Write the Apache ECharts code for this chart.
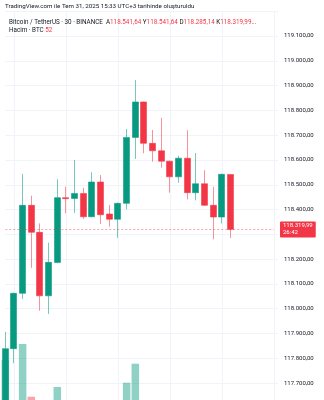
<!DOCTYPE html>
<html>
<head>
<meta charset="utf-8">
<script src="https://cdn.jsdelivr.net/npm/echarts@6/dist/echarts.min.js"></script>
<style>html,body{margin:0;padding:0;background:#fff}#c{width:324px;height:400px}</style>
</head>
<body>
<div id="c"></div>
<script>
const categories = ['02:30','03:00','03:30','04:00','04:30','05:00','05:30','06:00','06:30','07:00','07:30','08:00','08:30','09:00','09:30','10:00','10:30','11:00','11:30','12:00','12:30','13:00','13:30','14:00','14:30','15:00','15:30','16:00','16:30','17:00','17:30','18:00'];
const opens  = [117590, 117839, 118062, 118417, 118308, 118052, 118186, 118448, 118445, 118465, 118371, 118511, 118382, 118361, 118425, 118691, 118834, 118667, 118637, 118595, 118532, 118607, 118468, 118504, 118417, 118370, 118541.64];
const closes = [117839, 118062, 118417, 118308, 118052, 118187, 118448, 118444, 118465, 118371, 118511, 118379, 118361, 118425, 118691, 118834, 118667, 118637, 118595, 118532, 118607, 118468, 118504, 118417, 118370, 118542, 118319.99];
const lows   = [117540, 117780, 118039, 118165, 117992, 117979, 118184, 118385, 118387, 118362, 118369, 118342, 118331, 118286, 118401, 118604, 118627, 118593, 118569, 118468, 118508, 118441, 118437, 118414, 118280, 118344, 118285.14];
const highs  = [117907, 118065, 118543, 118456, 118344, 118266, 118522, 118492, 118600, 118488, 118550, 118539, 118418, 118428, 118725, 118922, 118836, 118721, 118769, 118597, 118617, 118720, 118628, 118559, 118492, 118545, 118541.64];
const volumes = [700, 280, 860, 333, 290, 250, 430, 120, 180, 150, 220, 200, 110, 190, 473, 663, 260, 140, 170, 160, 130, 210, 120, 150, 240, 230, 52];
const lastPrice = 118319.99;
const countdown = '26:42';
const headerLine1 = 'TradingView.com ile Tem 31, 2025 15:33 UTC+3 tarihinde oluşturuldu';
const symbolText = 'Bitcoin / TetherUS · 30 · BINANCE';
const ohlcLabels = ['A', 'Y', 'D', 'K'];
const ohlcValues = ['118.541,64', '118.541,64', '118.285,14', '118.319,99...'];
const volumeLabel = 'Hacim · BTC';
const volumeValue = '52';

const UP = '#089981', DOWN = '#f23645';
const FONT = 'Roboto';

function trFmt(v) {
  const s = v.toFixed(2).split('.');
  return s[0].replace(/\B(?=(\d{3})+(?!\d))/g, '.') + ',' + s[1];
}

const candleData = opens.map((o, i) => [o, closes[i], lows[i], highs[i]]);
const volData = volumes.map((v, i) => ({
  value: v,
  itemStyle: { color: closes[i] >= opens[i] ? 'rgba(8,153,129,0.45)' : 'rgba(242,54,69,0.45)' }
}));

let ohlcRich = symbolText + '  ';
ohlcLabels.forEach((l, i) => { ohlcRich += l + '{r|' + ohlcValues[i] + '}' + (i < 3 ? ' ' : ''); });

const chart = echarts.init(document.getElementById('c'), null, { renderer: 'canvas' });
chart.setOption({
  animation: false,
  backgroundColor: '#ffffff',
  textStyle: { fontFamily: FONT },
  title: [
    { text: headerLine1, left: 5, top: 3, padding: 0,
      textStyle: { fontSize: 6.2, fontWeight: 'normal', color: '#131722', fontFamily: FONT } },
    { text: ohlcRich, left: 9, top: 19, padding: 0,
      textStyle: { fontSize: 6.3, fontWeight: 'normal', color: '#131722', fontFamily: FONT,
        rich: { r: { color: DOWN, fontSize: 6.3, fontFamily: FONT } } } },
    { text: volumeLabel + ' {r|' + volumeValue + '}', left: 9, top: 27.5, padding: 0,
      textStyle: { fontSize: 6.3, fontWeight: 'normal', color: '#131722', fontFamily: FONT,
        rich: { r: { color: DOWN, fontSize: 6.3, fontFamily: FONT } } } }
  ],
  grid: [
    { left: 5.3, right: 50, top: 11.2, height: 396.7, containLabel: false, outerBoundsMode: 'none' },
    { left: 5.3, right: 50, top: 230, height: 200, containLabel: false, outerBoundsMode: 'none' }
  ],
  xAxis: [
    { type: 'category', data: categories, boundaryGap: false, gridIndex: 0,
      axisLabel: { show: false }, axisTick: { show: false }, axisLine: { show: false },
      splitLine: { show: true, interval: (idx, val) => val.endsWith(':00') && parseInt(val, 10) % 3 === 0,
        lineStyle: { color: '#f0f3fa', width: 1 } } },
    { type: 'category', data: categories, boundaryGap: false, gridIndex: 1, show: false }
  ],
  yAxis: [
    { type: 'value', gridIndex: 0, position: 'right', min: 117600, max: 119200, interval: 100,
      axisLine: { show: false },
      axisTick: { show: true, length: 4, lineStyle: { color: '#f0f3fa' } },
      axisLabel: { margin: 10, fontSize: 6, color: '#131722', fontFamily: FONT,
        formatter: v => v >= 119200 ? '' : trFmt(v) },
      splitLine: { show: true, lineStyle: { color: '#f0f3fa', width: 1 } } },
    { type: 'value', gridIndex: 1, min: 0, max: 2000, show: false, splitLine: { show: false } }
  ],
  series: [
    { type: 'bar', xAxisIndex: 1, yAxisIndex: 1, data: volData, barWidth: 7.5, z: 1, silent: true },
    { type: 'candlestick', xAxisIndex: 0, yAxisIndex: 0, data: candleData, barWidth: 6.5, z: 3,
      itemStyle: { color: UP, color0: DOWN, borderColor: 'rgba(8,153,129,0.55)', borderColor0: 'rgba(242,54,69,0.55)', borderWidth: 1 },
      markLine: {
        silent: true, symbol: 'none',
        lineStyle: { type: [2, 2], color: 'rgba(242,54,69,0.45)', width: 1 },
        label: {
          position: 'end', distance: 6,
          formatter: trFmt(lastPrice) + '\n' + countdown,
          color: '#ffffff', backgroundColor: DOWN, fontSize: 6, lineHeight: 7,
          padding: [1, 3, 1, 3], borderRadius: 1, fontFamily: FONT
        },
        data: [{ yAxis: lastPrice }]
      } }
  ]
});
</script>
</body>
</html>
